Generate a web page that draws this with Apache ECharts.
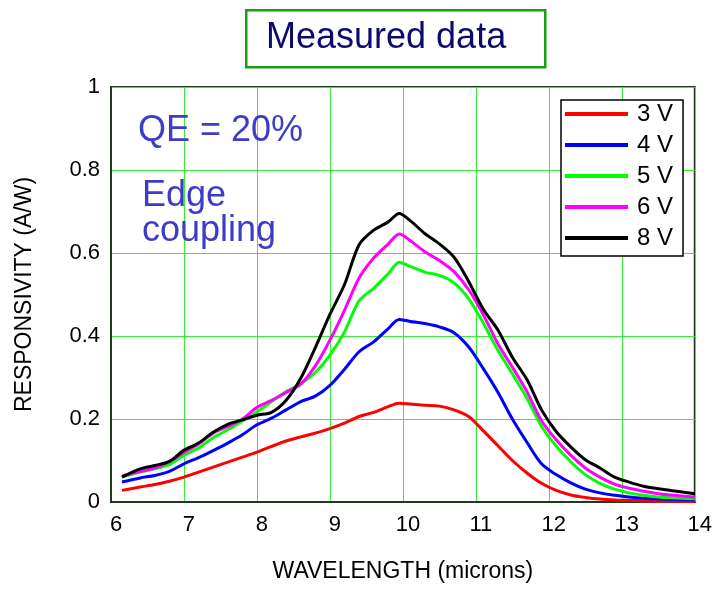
<!DOCTYPE html>
<html>
<head>
<meta charset="utf-8">
<script src="https://cdn.jsdelivr.net/npm/echarts@6/dist/echarts.min.js"></script>
<style>
html,body{margin:0;padding:0;background:#fff;}
#chart{width:715px;height:590px;}
</style>
</head>
<body>
<div id="chart"></div>
<script>
const wavelength = [6.15,6.4,6.6,6.8,7.0,7.2,7.4,7.6,7.8,8.0,8.2,8.4,8.6,8.8,9.0,9.2,9.4,9.6,9.8,9.95,10.1,10.3,10.5,10.7,10.9,11.1,11.3,11.5,11.7,11.9,12.1,12.3,12.5,12.7,12.9,13.1,13.3,13.5,13.7,14.0];
const r3V = [0.028,0.036,0.042,0.050,0.060,0.072,0.084,0.096,0.108,0.120,0.134,0.147,0.157,0.166,0.177,0.190,0.206,0.216,0.230,0.238,0.236,0.233,0.231,0.222,0.206,0.172,0.136,0.100,0.070,0.045,0.028,0.017,0.011,0.007,0.005,0.004,0.003,0.002,0.002,0.001];
const r4V = [0.048,0.058,0.064,0.074,0.092,0.107,0.124,0.142,0.162,0.186,0.202,0.222,0.242,0.255,0.281,0.320,0.362,0.386,0.418,0.440,0.435,0.430,0.422,0.408,0.374,0.322,0.265,0.200,0.144,0.092,0.066,0.046,0.031,0.022,0.016,0.012,0.009,0.007,0.006,0.005];
const r5V = [0.060,0.072,0.080,0.090,0.113,0.130,0.155,0.174,0.195,0.217,0.242,0.266,0.285,0.312,0.354,0.410,0.485,0.515,0.550,0.578,0.568,0.554,0.546,0.528,0.490,0.432,0.366,0.309,0.250,0.182,0.135,0.097,0.066,0.045,0.031,0.022,0.016,0.012,0.010,0.008];
const r6V = [0.063,0.074,0.082,0.097,0.120,0.140,0.166,0.182,0.200,0.228,0.245,0.264,0.284,0.328,0.390,0.462,0.540,0.588,0.622,0.646,0.630,0.603,0.582,0.555,0.512,0.452,0.382,0.325,0.266,0.196,0.150,0.113,0.082,0.060,0.043,0.033,0.026,0.020,0.016,0.012];
const r8V = [0.060,0.080,0.088,0.098,0.125,0.142,0.168,0.187,0.198,0.209,0.216,0.245,0.298,0.372,0.452,0.524,0.620,0.655,0.675,0.695,0.678,0.647,0.622,0.590,0.532,0.465,0.415,0.349,0.295,0.222,0.170,0.133,0.102,0.082,0.060,0.048,0.038,0.032,0.027,0.020];
const seriesNames = ['3 V','4 V','5 V','6 V','8 V'];
const seriesValues = [r3V, r4V, r5V, r6V, r8V];
const seriesColors = ['#ff0000','#0000ff','#00ff00','#ff00ff','#000000'];
const xTicks = [6,7,8,9,10,11,12,13,14];
const yTicks = [0,0.2,0.4,0.6,0.8,1];

const FONT = "'Liberation Sans', Arial, sans-serif";
const chart = echarts.init(document.getElementById('chart'), null, {renderer:'canvas'});

const series = seriesNames.map((name, i) => ({
  name: name,
  type: 'line',
  showSymbol: false,
  symbol: 'none',
  smooth: 0.3,
  data: wavelength.map((w, j) => [w, seriesValues[i][j]]),
  lineStyle: {color: seriesColors[i], width: 3},
  itemStyle: {color: seriesColors[i]},
  z: 3 + i
}));

const option = {
  backgroundColor: '#ffffff',
  animation: false,
  grid: {
    left: 111, right: 18, top: 87, bottom: 88,
    show: true, borderColor: '#1f3a1f', borderWidth: 2, backgroundColor: 'transparent'
  },
  xAxis: {
    type: 'value',
    min: xTicks[0], max: xTicks[xTicks.length-1], interval: 1,
    name: 'WAVELENGTH (microns)',
    nameLocation: 'middle',
    nameGap: 58,
    nameTextStyle: {fontFamily: FONT, fontSize: 23, color: '#000'},
    axisLine: {show: true, onZero: false, lineStyle: {color: '#1f3a1f', width: 2}},
    axisTick: {show: false},
    axisLabel: {fontFamily: FONT, fontSize: 22, color: '#000', margin: 12, padding: [0,0,0,10]},
    splitLine: {show: true, lineStyle: {color: '#33ee33', width: 1}}
  },
  yAxis: {
    type: 'value',
    min: yTicks[0], max: yTicks[yTicks.length-1], interval: 0.2,
    name: 'RESPONSIVITY (A/W)',
    nameLocation: 'middle',
    nameGap: 75,
    nameTextStyle: {fontFamily: FONT, fontSize: 23, color: '#000'},
    axisLine: {show: true, lineStyle: {color: '#1f3a1f', width: 2}},
    axisTick: {show: false},
    axisLabel: {fontFamily: FONT, fontSize: 22, color: '#000', margin: 11, padding: [6,0,0,0]},
    splitLine: {show: true, lineStyle: {color: '#33ee33', width: 1}}
  },
  legend: {
    orient: 'vertical',
    left: 561, top: 100,
    data: seriesNames,
    icon: 'rect',
    itemWidth: 63, itemHeight: 4, itemGap: 7,
    padding: [2, 10, 6, 4],
    backgroundColor: '#ffffff',
    borderColor: '#000000', borderWidth: 1.5,
    textStyle: {fontFamily: FONT, fontSize: 24, lineHeight: 24, color: '#000', padding: [0,0,0,4]}
  },
  graphic: [
    {type: 'rect', left: 245, top: 9, z: 10,
     shape: {width: 299, height: 57},
     style: {fill: '#ffffff', stroke: '#14a014', lineWidth: 2.5}},
    {type: 'text', z: 11, x: 266, y: 38.5,
     style: {text: 'Measured data', font: '36px ' + FONT, fill: '#0b0b6e', textAlign: 'left', textVerticalAlign: 'middle'}},
    {type: 'text', z: 11, x: 138, y: 131,
     style: {text: 'QE = 20%', font: '36px ' + FONT, fill: '#3c3cc8', textAlign: 'left', textVerticalAlign: 'middle'}},
    {type: 'text', z: 11, x: 142, y: 196,
     style: {text: 'Edge', font: '36px ' + FONT, fill: '#3c3cc8', textAlign: 'left', textVerticalAlign: 'middle'}},
    {type: 'text', z: 11, x: 142, y: 231.5,
     style: {text: 'coupling', font: '36px ' + FONT, fill: '#3c3cc8', textAlign: 'left', textVerticalAlign: 'middle'}}
  ],
  series: series
};
chart.setOption(option);
</script>
</body>
</html>
